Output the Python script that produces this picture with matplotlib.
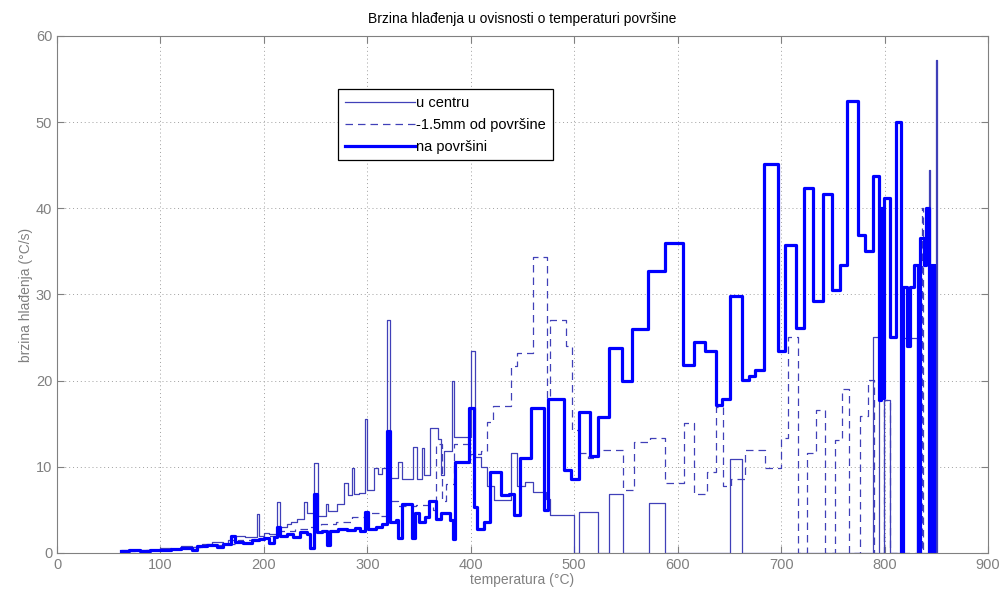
#!/usr/bin/env python3
"""
Brzina hladjenja - step plot
"""

import matplotlib
matplotlib.use("Agg")
import matplotlib.pyplot as plt

# temperature breakpoints (deg C) and cooling rate (deg C/s)
x_centar = [62, 75, 90, 100, 110, 120, 130, 140, 150, 160, 165, 172, 182, 190, 193, 195,
            200, 205, 213, 216, 222, 226, 232, 239, 242, 248, 252, 260, 262, 271, 277, 281,
            285, 287, 292, 298, 300, 306, 310, 314, 319, 322, 330, 333, 344, 348, 353, 355,
            361, 368, 371, 374, 382, 384, 400, 404, 410, 416, 422, 439, 445, 452, 460, 473,
            477, 500, 505, 523, 534, 547, 572, 588, 651, 662, 789, 795, 799, 805, 818, 831,
            843, 844, 850, 851]
y_centar = [0.2, 0.4, 0.3, 0.6, 0.5, 0.8, 0.7, 1.0, 1.3, 1.1, 1.5, 2.0, 1.8, 1.9, 4.5, 2.0,
            2.3, 2.2, 5.9, 3.0, 3.4, 3.6, 4.0, 5.9, 4.6, 10.5, 4.3, 5.7, 4.9, 5.7, 8.1, 6.7,
            9.9, 6.8, 7.0, 15.6, 7.3, 9.9, 9.2, 9.9, 27.0, 8.7, 10.6, 8.6, 12.3, 8.6, 12.2, 9.0,
            14.5, 13.2, 9.0, 11.8, 20.0, 13.5, 23.4, 11.1, 10.0, 7.8, 6.1, 11.6, 7.8, 8.2, 7.1, 6.3,
            4.4, 0, 4.8, 0, 6.9, 0, 5.8, 0, 10.9, 0, 25.1, 0, 17.8, 0, 25.0, 0,
            44.5, 0, 57.2, 0]

x_ispod = [62, 80, 100, 120, 140, 160, 175, 190, 200, 215, 230, 245, 255, 270, 285, 300,
           312, 319, 330, 347, 363, 366, 372, 376, 384, 398, 410, 416, 421, 439, 445, 460,
           474, 477, 492, 498, 505, 513, 523, 547, 558, 573, 588, 606, 616, 628, 637, 644,
           652, 665, 684, 700, 707, 716, 725, 734, 742, 752, 759, 766, 776, 784, 790, 799,
           805, 836, 837]
y_ispod = [0.3, 0.4, 0.5, 0.7, 0.9, 1.1, 1.5, 1.6, 2.0, 2.6, 2.8, 3.0, 3.4, 3.6, 4.2, 4.6,
           4.3, 6.0, 5.5, 5.6, 5.0, 12.7, 6.0, 8.0, 12.7, 11.5, 11.8, 15.2, 17.1, 21.7, 23.2, 34.4,
           18.0, 27.0, 24.0, 14.3, 11.6, 11.0, 11.9, 7.3, 12.9, 13.4, 8.1, 15.1, 6.8, 9.4, 17.0, 7.8,
           8.6, 11.9, 9.9, 13.3, 25.1, 0, 11.6, 16.6, 0, 13.1, 19.0, 0, 15.9, 20.1, 0, 17.8,
           0, 40.0, 0]

x_povrsina = [62, 70, 80, 90, 100, 110, 120, 130, 135, 145, 155, 160, 168, 172, 180, 188,
              195, 200, 205, 210, 213, 216, 222, 228, 235, 242, 245, 248, 251, 256, 261, 264,
              272, 280, 288, 293, 298, 301, 308, 314, 319, 322, 328, 330, 333, 343, 346, 350,
              356, 360, 366, 371, 380, 383, 385, 398, 403, 406, 413, 419, 429, 437, 442, 448,
              458, 471, 475, 490, 497, 505, 515, 523, 534, 546, 556, 571, 588, 605, 616, 626,
              637, 643, 651, 662, 669, 675, 683, 697, 704, 714, 722, 731, 740, 749, 757, 764,
              774, 781, 789, 795, 797, 798, 799, 805, 811, 816, 818, 822, 825, 828, 832, 834,
              838, 840, 843, 843.5, 844, 844.5, 845, 845.5, 846, 846.5, 847, 847.5, 848]
y_povrsina = [0.2, 0.3, 0.2, 0.4, 0.3, 0.5, 0.6, 0.4, 0.8, 0.9, 0.7, 1.0, 2.0, 1.3, 1.2, 1.5,
              1.6, 1.7, 1.2, 1.8, 3.0, 2.0, 2.2, 1.9, 2.4, 2.2, 0.6, 6.9, 2.4, 2.6, 0.9, 2.6,
              2.8, 2.7, 2.9, 2.6, 4.8, 2.8, 3.0, 3.4, 14.2, 3.6, 3.8, 1.7, 5.7, 1.7, 4.6, 3.6,
              4.2, 6.0, 4.0, 4.6, 3.8, 1.6, 10.6, 16.8, 5.3, 2.8, 3.6, 9.4, 6.7, 6.9, 4.4, 11.0,
              16.8, 5.0, 17.9, 9.6, 8.6, 16.4, 11.2, 15.8, 23.8, 20.0, 26.0, 32.7, 36.0, 21.8, 24.5, 23.4,
              17.2, 17.9, 29.8, 20.1, 20.5, 21.2, 45.2, 23.4, 35.8, 26.1, 42.4, 29.3, 41.7, 30.5, 33.4, 52.4,
              36.9, 35.0, 43.8, 17.8, 40.0, 18.0, 41.2, 25.1, 50.0, 0, 30.9, 24.0, 30.9, 33.4, 0, 36.5,
              33.4, 40.0, 0, 33.4, 0, 33.4, 0, 33.4, 0, 33.4, 0, 33.4, 0]

x_ticks = [0, 100, 200, 300, 400, 500, 600, 700, 800, 900]
y_ticks = [0, 10, 20, 30, 40, 50, 60]


def main():
	plt.rcParams["font.family"] = ["Liberation Sans", "DejaVu Sans"]

	fig = plt.figure(figsize=(10.04, 5.95), dpi=100)
	ax = fig.add_axes([0.0568, 0.0706, 0.9273, 0.8689])

	thin = "#4040b8"
	ax.step(x_centar, y_centar, where="post", color=thin, linewidth=0.9, label="u centru")
	ax.step(x_ispod, y_ispod, where="post", color=thin, linewidth=0.9,
			linestyle=(0, (6, 4)), label="-1.5mm od površine")
	ax.step(x_povrsina, y_povrsina, where="post", color="#0000ff", linewidth=2.3,
			label="na površini")

	ax.set_xlim(0, 900)
	ax.set_ylim(0, 60)
	ax.set_xticks(x_ticks)
	ax.set_yticks(y_ticks)

	grey = "#808080"
	ax.grid(True, linestyle=(0, (1, 3)), color="#a0a0a0", linewidth=0.7)
	for s in ax.spines.values():
		s.set_color(grey)
	ax.tick_params(direction="in", top=True, right=True, length=5, colors=grey,
				   labelsize=10.5, labelcolor=grey)

	ax.set_title("Brzina hlađenja u ovisnosti o temperaturi površine", fontsize=10, pad=9)
	ax.set_xlabel("temperatura (°C)", fontsize=10, color=grey, labelpad=1)
	ax.set_ylabel("brzina hlađenja (°C/s)", fontsize=10, color=grey, labelpad=2)

	leg = ax.legend(loc="upper left", bbox_to_anchor=(0.302, 0.897), fontsize=10.5,
					fancybox=False, framealpha=1, edgecolor="black", handlelength=4.8,
					handletextpad=0.1, borderpad=0.45, labelspacing=0.55, borderaxespad=0)
	leg.get_frame().set_linewidth(0.9)

	fig.savefig("out.png", dpi=100)


if __name__ == "__main__":
	main()
